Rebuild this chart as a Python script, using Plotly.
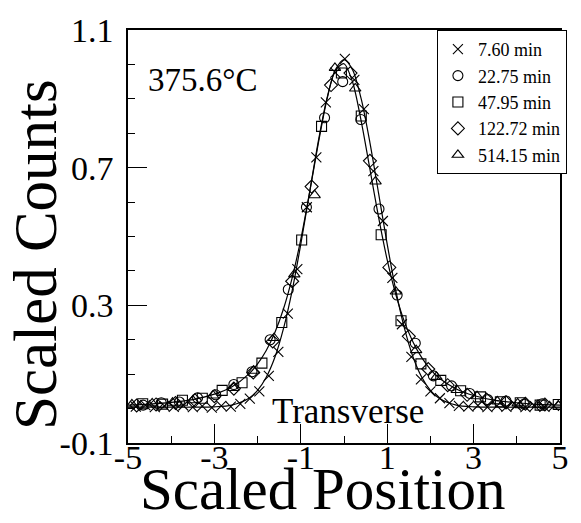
import plotly.graph_objects as go

# ---- measured points (scaled position, scaled counts) ----
x_760 = [-4.82, -4.60, -4.38, -4.16, -3.94, -3.72, -3.50, -3.28, -3.06, -2.84, -2.62,
         -2.40, -2.18, -1.96, -1.74, -1.52, -1.30, -1.08, -0.86, -0.64, -0.42, -0.20,
         0.02, 0.24, 0.46, 0.68, 0.90, 1.12, 1.34, 1.56, 1.78, 2.00, 2.22, 2.44, 2.66,
         2.88, 3.10, 3.32, 3.54, 3.76, 3.98, 4.20, 4.42, 4.64, 4.86]
y_760 = [0.006, 0.010, 0.004, 0.008, 0.005, 0.009, 0.004, 0.007, 0.003, 0.008, 0.006,
         0.014, 0.029, 0.050, 0.095, 0.165, 0.276, 0.405, 0.585, 0.730, 0.890, 0.976,
         1.016, 0.955, 0.870, 0.690, 0.545, 0.380, 0.245, 0.150, 0.085, 0.050, 0.030,
         0.016, 0.008, 0.006, 0.009, 0.004, 0.008, 0.005, 0.009, 0.004, 0.007, 0.005, 0.008]

x_2275 = [-4.65, -4.23, -3.81, -3.39, -2.97, -2.55, -2.13, -1.71, -1.29, -0.87, -0.45,
          -0.03, 0.39, 0.81, 1.23, 1.65, 2.07, 2.49, 2.91, 3.33, 3.75, 4.17, 4.59]
y_2275 = [0.010, 0.017, 0.019, 0.031, 0.040, 0.070, 0.107, 0.200, 0.346, 0.585, 0.845,
          0.950, 0.840, 0.580, 0.330, 0.190, 0.095, 0.066, 0.044, 0.026, 0.022, 0.013, 0.014]

x_4795 = [-4.66, -4.20, -3.74, -3.28, -2.82, -2.36, -1.90, -1.44, -0.98, -0.52, -0.06,
          0.40, 0.86, 1.32, 1.78, 2.24, 2.70, 3.16, 3.62, 4.08, 4.54, 4.96]
y_4795 = [0.014, 0.013, 0.024, 0.030, 0.053, 0.075, 0.132, 0.250, 0.490, 0.820, 0.975,
          0.850, 0.505, 0.255, 0.130, 0.082, 0.052, 0.034, 0.020, 0.017, 0.010, 0.012]

x_12272 = [-4.80, -4.35, -3.90, -3.45, -3.00, -2.55, -2.10, -1.65, -1.20, -0.75, -0.30,
           0.15, 0.60, 1.05, 1.50, 1.95, 2.40, 2.85, 3.30, 3.75, 4.20, 4.65]
y_12272 = [0.009, 0.012, 0.016, 0.024, 0.036, 0.058, 0.105, 0.195, 0.370, 0.645, 0.940,
           0.975, 0.720, 0.410, 0.210, 0.115, 0.068, 0.040, 0.026, 0.018, 0.014, 0.012]

x_51415 = [-4.91, -4.44, -3.97, -3.50, -3.03, -2.56, -2.09, -1.62, -1.15, -0.68, -0.21,
           0.26, 0.73, 1.20, 1.67, 2.14, 2.61, 3.08, 3.55, 4.02, 4.49, 4.96]
y_51415 = [0.012, 0.015, 0.017, 0.024, 0.038, 0.060, 0.110, 0.205, 0.390, 0.620, 0.990,
           0.930, 0.660, 0.340, 0.170, 0.092, 0.054, 0.036, 0.021, 0.015, 0.011, 0.009]

# ---- fitted line shapes ----
x_fit = [-5.0, -4.5, -4.0, -3.5, -3.0, -2.6, -2.2, -2.0, -1.8, -1.6, -1.4, -1.2, -1.0,
         -0.8, -0.6, -0.4, -0.2, 0.0, 0.2, 0.4, 0.6, 0.8, 1.0, 1.2, 1.4, 1.6, 1.8, 2.0,
         2.2, 2.6, 3.0, 3.5, 4.0, 4.5, 5.0]
y_fit_wide = [0.010, 0.013, 0.018, 0.026, 0.042, 0.063, 0.101, 0.130, 0.169, 0.221, 0.290,
              0.380, 0.492, 0.625, 0.767, 0.895, 0.983, 1.002, 0.948, 0.834, 0.696, 0.556,
              0.432, 0.331, 0.252, 0.193, 0.148, 0.114, 0.089, 0.057, 0.038, 0.024, 0.017,
              0.012, 0.010]
y_fit_narrow = [0.004, 0.004, 0.004, 0.004, 0.005, 0.010, 0.030, 0.053, 0.091, 0.149, 0.233,
                0.343, 0.478, 0.626, 0.773, 0.899, 0.984, 1.014, 0.984, 0.899, 0.773, 0.626,
                0.478, 0.343, 0.233, 0.149, 0.091, 0.053, 0.030, 0.010, 0.005, 0.004, 0.004,
                0.004, 0.004]

# ---- axes ----
x_tickvals = [-5, -3, -1, 1, 3, 5]
x_ticktext = ["-5", "-3", "-1", "1", "3", "5"]
y_tickvals = [-0.1, 0.3, 0.7, 1.1]
y_ticktext = ["-0.1", "0.3", "0.7", "1.1"]

series = [
    ("7.60 min", x_760, y_760, "x-thin-open"),
    ("22.75 min", x_2275, y_2275, "circle-open"),
    ("47.95 min", x_4795, y_4795, "square-open"),
    ("122.72 min", x_12272, y_12272, "diamond-open"),
    ("514.15 min", x_51415, y_51415, "triangle-up-open"),
]

SERIF = "Liberation Serif, Times New Roman, serif"

fig = go.Figure()

for yf in (y_fit_wide, y_fit_narrow):
    fig.add_trace(go.Scatter(
        x=x_fit, y=yf, mode="lines",
        line=dict(color="black", width=1.2, shape="spline", smoothing=0.8),
        showlegend=False, hoverinfo="skip",
    ))

for i, (name, xs, ys, sym) in enumerate(series):
    fig.add_trace(go.Scatter(
        x=xs, y=ys, mode="markers", name=name, legendgroup=f"g{i}",
        marker=dict(symbol=sym, size=10, color="black",
                    line=dict(color="black", width=1.1)),
    ))

axis_common = dict(
    showline=True, linecolor="black", linewidth=1.5, mirror=True,
    ticks="inside", ticklen=19, tickwidth=1.2, tickcolor="black",
    showgrid=False, zeroline=False,
    tickfont=dict(family=SERIF, size=34, color="black"),
)

fig.update_xaxes(
    range=[-5, 5], tickmode="array", tickvals=x_tickvals, ticktext=x_ticktext,
    minor=dict(ticks="inside", ticklen=7, tickwidth=1.2, tickcolor="black",
               tickmode="linear", tick0=-5, dtick=1),
    ticklabelstandoff=-17,
    **axis_common,
)
fig.update_yaxes(
    range=[-0.1, 1.1], tickmode="array", tickvals=y_tickvals, ticktext=y_ticktext,
    minor=dict(ticks="inside", ticklen=7, tickwidth=1.2, tickcolor="black",
               tickmode="linear", tick0=-0.1, dtick=0.1),
    ticklabelstandoff=6,
    **axis_common,
)

fig.add_annotation(x=-4.59, y=0.955, xref="x", yref="y", text="375.6°C",
                   showarrow=False, xanchor="left", yanchor="middle",
                   font=dict(family=SERIF, size=33, color="black"))
fig.add_annotation(x=0.09, y=-0.008, xref="x", yref="y", text="Transverse",
                   showarrow=False, xanchor="center", yanchor="middle",
                   font=dict(family=SERIF, size=35, color="black"))
fig.add_annotation(x=0.45, y=-0.112, xref="paper", yref="paper", text="Scaled Position",
                   showarrow=False, xanchor="center", yanchor="middle",
                   font=dict(family=SERIF, size=59, color="black"))
fig.add_annotation(x=-0.2146, y=0.456, xref="paper", yref="paper", text="Scaled Counts",
                   showarrow=False, textangle=-90, xanchor="center", yanchor="middle",
                   font=dict(family=SERIF, size=61, color="black"))

fig.update_layout(
    width=581, height=523,
    margin=dict(l=128, r=15, t=26, b=80),
    paper_bgcolor="white", plot_bgcolor="white",
    showlegend=True,
    legend=dict(x=1.016, y=1.0, xanchor="right", yanchor="top",
                bgcolor="white", bordercolor="black", borderwidth=1,
                font=dict(family=SERIF, size=18, color="black"),
                tracegroupgap=0, itemwidth=30),
)

fig.write_html("out.html")
